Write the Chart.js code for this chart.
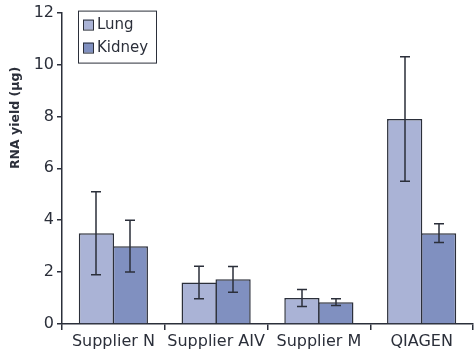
<!DOCTYPE html>
<html><head><meta charset="utf-8">
<script src="https://cdn.jsdelivr.net/npm/chart.js@4"></script>
<style>html,body{margin:0;padding:0;background:#fff}#w{width:474px;height:354px}</style>
</head><body><div id="w"><canvas id="c"></canvas></div>
<script>
const categories = ["Supplier N", "Supplier AIV", "Supplier M", "QIAGEN"];
const lungValues = [3.5, 1.6, 1.0, 7.9];
const lungErrors = [1.6, 0.63, 0.33, 2.4];
const kidneyValues = [3.0, 1.72, 0.84, 3.5];
const kidneyErrors = [1.0, 0.5, 0.13, 0.36];
const yTicks = [0, 2, 4, 6, 8, 10, 12];
const yTitle = 'RNA yield (µg)';

const FONT = "'DejaVu Sans', sans-serif";
const INK = '#2b2f3a';

const errorBars = {
  id: 'errorBars',
  afterDatasetsDraw(chart) {
    const ctx = chart.ctx, y = chart.scales.y;
    ctx.save();
    ctx.strokeStyle = INK; ctx.lineWidth = 1.5;
    chart.data.datasets.forEach((ds, di) => {
      const meta = chart.getDatasetMeta(di);
      meta.data.forEach((bar, i) => {
        const v = ds.data[i], e = ds.errors[i];
        const x = Math.round(bar.x), yt = y.getPixelForValue(v + e), yb = y.getPixelForValue(v - e);
        ctx.beginPath();
        ctx.moveTo(x, yt); ctx.lineTo(x, yb);
        ctx.moveTo(x - 5, yt); ctx.lineTo(x + 5, yt);
        ctx.moveTo(x - 5, yb); ctx.lineTo(x + 5, yb);
        ctx.stroke();
      });
    });
    ctx.restore();
  }
};

const extras = {
  id: 'extras',
  afterDraw(chart) {
    const ctx = chart.ctx, a = chart.chartArea;
    // y-axis title
    ctx.save();
    ctx.translate(16, 118);
    ctx.rotate(-Math.PI / 2);
    ctx.font = 'bold 12.5px ' + FONT;
    ctx.fillStyle = INK;
    ctx.textAlign = 'center';
    ctx.textBaseline = 'middle';
    ctx.fillText(yTitle, 0, 0);
    ctx.restore();
    // boxed legend
    const x0 = a.left + 16, y0 = a.top - 2, w = 78, h = 52;
    ctx.save();
    ctx.fillStyle = '#fff';
    ctx.fillRect(x0, y0, w, h);
    ctx.strokeStyle = INK; ctx.lineWidth = 1;
    ctx.strokeRect(x0 + 0.5, y0 + 0.5, w, h);
    ctx.font = '15px ' + FONT;
    ctx.textBaseline = 'middle';
    chart.data.datasets.forEach((ds, i) => {
      const cy = y0 + 14 + i * 23;
      ctx.fillStyle = ds.backgroundColor;
      ctx.fillRect(x0 + 5, cy - 5, 10, 10);
      ctx.strokeRect(x0 + 5.5, cy - 4.5, 10, 10);
      ctx.fillStyle = INK;
      ctx.fillText(ds.label, x0 + 19, cy + 1);
    });
    ctx.restore();
  }
};

new Chart(document.getElementById('c'), {
  type: 'bar',
  data: {
    labels: categories,
    datasets: [
      { label: 'Lung', data: lungValues, errors: lungErrors, backgroundColor: '#aab3d6', borderColor: INK, borderWidth: 1.5 },
      { label: 'Kidney', data: kidneyValues, errors: kidneyErrors, backgroundColor: '#8090c0', borderColor: INK, borderWidth: 1.5 }
    ]
  },
  options: {
    responsive: true, maintainAspectRatio: false, animation: false,
    layout: { padding: { top: 12, right: 1, left: 0, bottom: 0 } },
    datasets: { bar: { categoryPercentage: 0.66, barPercentage: 1.04 } },
    plugins: { legend: { display: false }, tooltip: { enabled: false } },
    scales: {
      x: {
        grid: { display: true, drawOnChartArea: false, offset: true, color: INK, tickLength: 6, lineWidth: 1.5 },
        border: { color: INK, width: 1.5 },
        ticks: { color: INK, font: { family: FONT, size: 16 }, padding: 2, maxRotation: 0 },
        afterFit(s) { s.height = 30; }
      },
      y: {
        min: 0, max: 12,
        afterBuildTicks(s) { s.ticks = yTicks.map(v => ({ value: v })); },
        grid: { display: true, drawOnChartArea: false, color: INK, tickLength: 5, lineWidth: 1.5 },
        border: { color: INK, width: 1.5 },
        ticks: { color: INK, font: { family: FONT, size: 16 }, padding: 3 },
        afterFit(s) { s.width = 62; }
      }
    }
  },
  plugins: [errorBars, extras]
});
</script></body></html>
